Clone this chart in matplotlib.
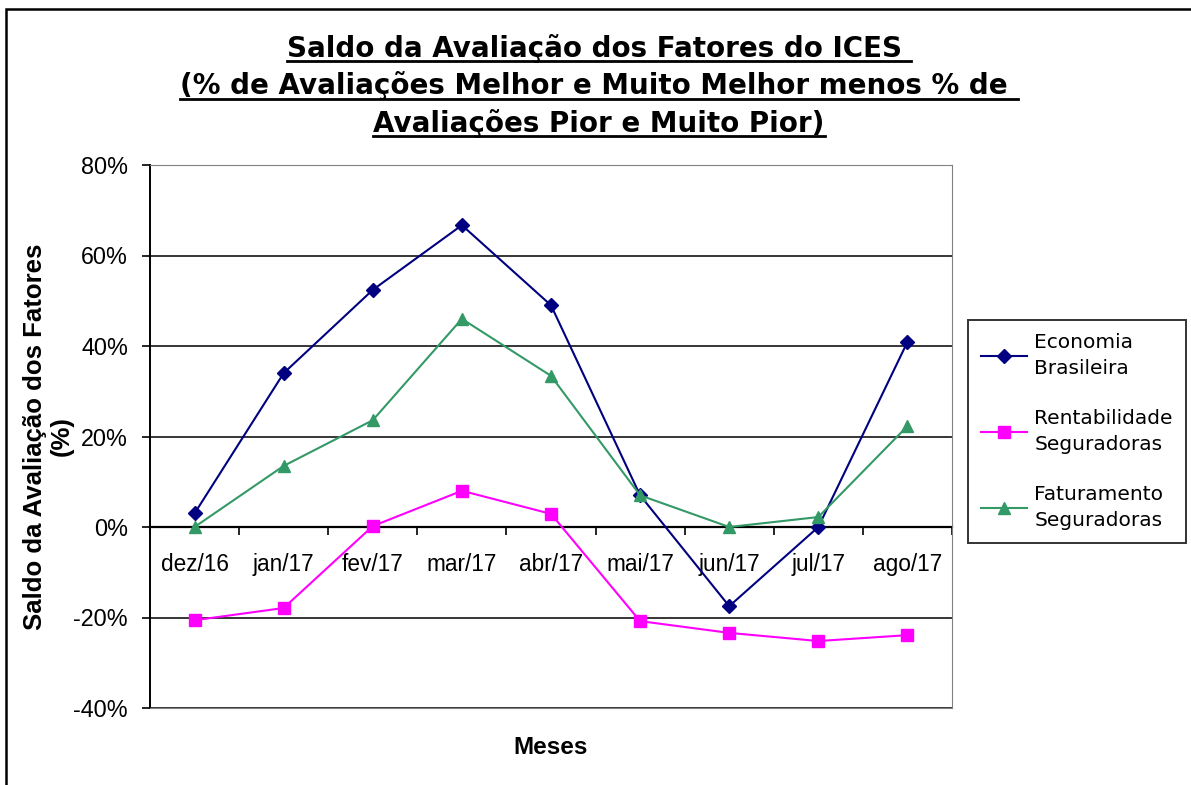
import numpy as np
import matplotlib
matplotlib.use("Agg")
import matplotlib.pyplot as plt
from matplotlib.lines import Line2D
from matplotlib.patches import Rectangle

meses = ["dez/16", "jan/17", "fev/17", "mar/17", "abr/17", "mai/17", "jun/17", "jul/17", "ago/17"]
economia = [3.0, 34.0, 52.4, 66.7, 49.0, 7.0, -17.5, 0.0, 40.9]
rentabilidade = [-20.6, -17.9, 0.2, 8.0, 2.9, -20.8, -23.4, -25.2, -23.9]
faturamento = [0.0, 13.5, 23.6, 46.0, 33.4, 7.0, 0.0, 2.2, 22.3]

titulo = ["Saldo da Avaliação dos Fatores do ICES ",
          "(% de Avaliações Melhor e Muito Melhor menos % de ",
          "Avaliações Pior e Muito Pior)"]

W, H = 1191, 785
fig = plt.figure(figsize=(W / 100, H / 100), dpi=100)
ax = fig.add_axes([150 / W, 1 - 708 / H, (952 - 150) / W, (708 - 165) / H])

x = np.arange(len(meses))
ax.plot(x, economia, color="#000080", marker="D", markersize=7.5, lw=1.5, label="Economia\nBrasileira")
ax.plot(x, rentabilidade, color="#FF00FF", marker="s", markersize=8, lw=1.5, label="Rentabilidade\nSeguradoras")
ax.plot(x, faturamento, color="#339966", marker="^", markersize=9, lw=1.5, label="Faturamento\nSeguradoras")

ax.set_xlim(-0.5, len(meses) - 0.5)
ax.set_ylim(-40, 80)
ax.set_yticks(np.arange(-40, 81, 20))
ax.set_yticklabels([f"{v}%" for v in range(-40, 81, 20)], fontsize=16.8, family="Liberation Sans")
ax.tick_params(axis="y", length=5.8, width=1.2, pad=10)
ax.grid(axis="y", color="black", lw=1.1)
ax.set_xticks([])
for s in ["top", "right", "bottom"]:
    ax.spines[s].set_color("#808080")
ax.spines["left"].set_color("black")
ax.spines["left"].set_linewidth(1.4)

# eixo x cruzando em 0%
sec = ax.secondary_xaxis(40 / 120)
sec.set_xticks(np.arange(-0.5, len(meses), 1.0))
sec.set_xticklabels([])
sec.set_xticks(x, minor=True)
sec.set_xticklabels(meses, minor=True, fontsize=16.3, family="Liberation Sans")
sec.tick_params(axis="x", which="major", length=5.8, width=1.2, direction="out")
sec.tick_params(axis="x", which="minor", length=0, pad=19)
sec.spines["bottom"].set_color("black")
sec.spines["bottom"].set_linewidth(1.6)

ax.set_ylabel("Saldo da Avaliação dos Fatores\n(%)", fontsize=18.5, fontweight="bold",
              family="Liberation Sans", labelpad=0, linespacing=1.12)
ax.set_xlabel("Meses", fontsize=17.5, fontweight="bold", family="Liberation Sans", labelpad=20)

leg = fig.legend(loc="upper left", bbox_to_anchor=(968 / W, 1 - 320 / H), frameon=True,
                 fancybox=False, edgecolor="black", fontsize=14.5, labelspacing=1.55,
                 handlelength=2.3, borderpad=0.65, handletextpad=0.35, borderaxespad=0)
leg.get_frame().set_linewidth(1.4)
for t in leg.get_texts():
    t.set_linespacing(1.45)

# título sublinhado
renderer = fig.canvas.get_renderer()
for i, linha in enumerate(titulo):
    yb = 57 + 37.5 * i
    t = fig.text(0.503, 1 - yb / H, linha, ha="center", va="baseline",
                 fontsize=20, fontweight="bold", family="DejaVu Sans")
    bb = t.get_window_extent(renderer)
    yu = 1 - (yb + 4) / H
    fig.add_artist(Line2D([bb.x0 / W, bb.x1 / W], [yu, yu], color="black", lw=2,
                          transform=fig.transFigure))

fig.add_artist(Rectangle((6 / W, -0.01), 1.1, 1 - 9 / H + 0.01, transform=fig.transFigure,
                         fill=False, edgecolor="black", lw=1.8))

fig.savefig("out.png", dpi=100)
